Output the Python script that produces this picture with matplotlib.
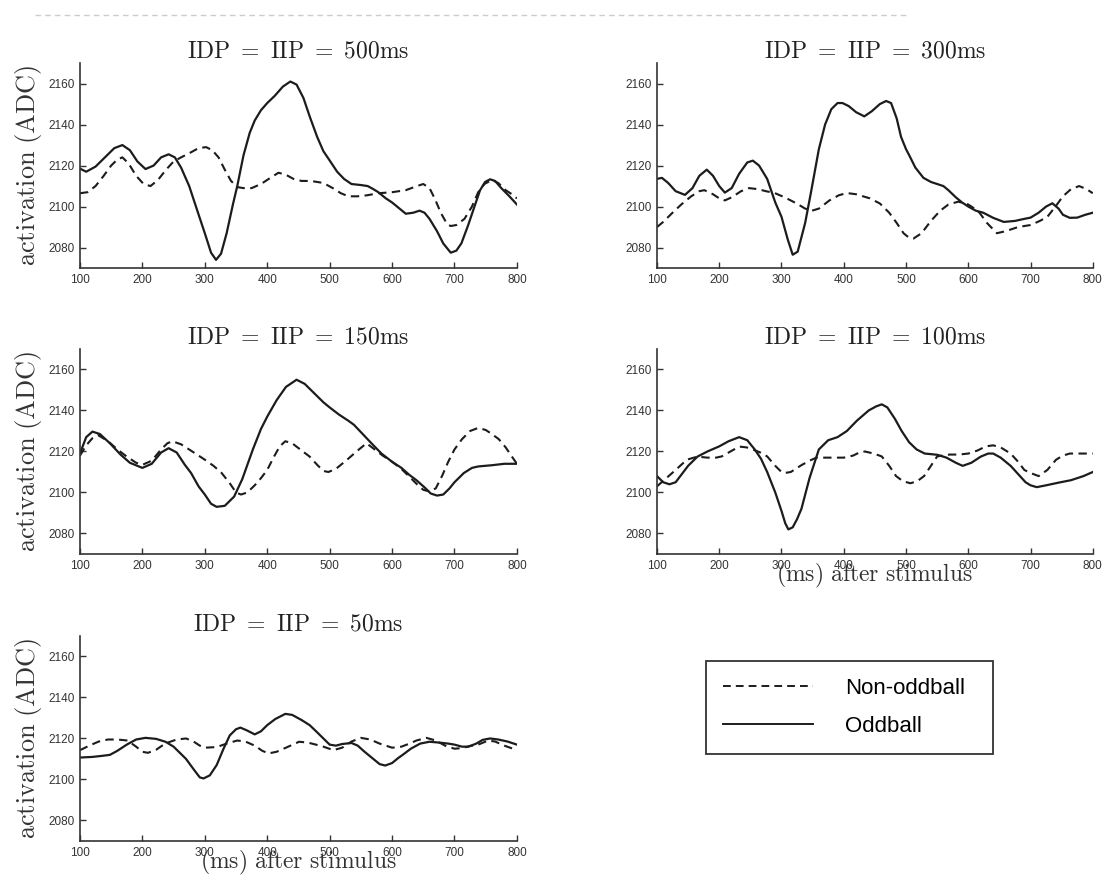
import matplotlib
matplotlib.use('Agg')
import matplotlib.pyplot as plt
from matplotlib.lines import Line2D
from matplotlib.patches import Rectangle

plt.rcParams['mathtext.fontset'] = 'cm'
plt.rcParams['font.family'] = ['Liberation Sans', 'DejaVu Sans']

# ---- data (time in ms, activation in ADC) ----
titles = ['500', '300', '150', '100', '50']

# IDP = IIP = 500ms
t500_odd = [100, 110, 125, 140, 155, 168, 180, 192, 205, 218, 230, 242, 252, 262, 275, 288, 300, 310, 318, 326,
            335, 345, 352, 362, 372, 380, 390, 400, 412, 425, 437, 447, 458, 468, 480, 490, 500, 512, 523, 535,
            550, 561, 570, 578, 590, 600, 612, 622, 634, 644, 652, 660, 672, 682, 694, 703, 711, 722, 732, 741,
            749, 757, 765, 775, 788, 800]
v500_odd = [2118.5, 2117, 2119.5, 2124, 2128.5, 2130, 2127.5, 2122, 2118.3, 2120, 2124, 2125.5, 2124, 2119, 2110,
            2098, 2087, 2077.5, 2074, 2077, 2087, 2101, 2110, 2125, 2136, 2142, 2147, 2150.5, 2154, 2158.5, 2161,
            2159.5, 2153, 2144, 2134, 2127, 2122.5, 2117, 2113.5, 2111, 2110.5, 2110, 2108.5, 2107, 2104, 2102,
            2099, 2096.5, 2097, 2098, 2097, 2094, 2088, 2082, 2077.5, 2078.5, 2082, 2091, 2100, 2108, 2112,
            2113.3, 2112.5, 2109, 2105, 2101]
t500_non = [100, 112, 125, 138, 150, 160, 168, 178, 190, 202, 213, 225, 238, 250, 262, 275, 290, 302, 312, 322,
            332, 342, 352, 362, 375, 390, 405, 418, 430, 442, 455, 470, 490, 505, 518, 530, 545, 560, 578, 600,
            622, 640, 650, 660, 669, 678, 688, 694, 703, 716, 728, 738, 748, 760, 770, 782, 792, 800]
v500_non = [2106.5, 2107, 2110, 2115, 2120, 2123, 2124, 2121, 2115, 2111, 2110, 2113, 2118, 2122, 2124, 2126,
            2128.5, 2129, 2127.5, 2124, 2118, 2112.5, 2109.5, 2109, 2109, 2111, 2114, 2116.5, 2115.5, 2113.5,
            2112.5, 2112.5, 2111.5, 2109, 2106.5, 2105, 2105, 2105.5, 2106.5, 2107, 2108, 2110, 2111, 2109,
            2103.5, 2097, 2091.5, 2090.5, 2091, 2094, 2100, 2107, 2111, 2113, 2111.5, 2108, 2106, 2104]

# IDP = IIP = 300ms
t300_odd = [100, 108, 118, 130, 145, 157, 168, 180, 190, 200, 209, 220, 232, 245, 254, 264, 277, 290, 300, 310,
            318, 326, 338, 348, 360, 370, 380, 390, 398, 408, 420, 433, 445, 458, 468, 476, 485, 492, 500, 506,
            515, 528, 540, 550, 560, 568, 580, 590, 600, 612, 624, 640, 657, 675, 690, 700, 713, 725, 735, 745,
            752, 763, 775, 788, 800]
v300_odd = [2113.5, 2114, 2111.5, 2107.5, 2105.7, 2109, 2115, 2118, 2115, 2110, 2106.8, 2109, 2116, 2121.5,
            2122.4, 2120, 2113.5, 2102, 2095, 2084, 2076.5, 2078, 2092, 2108, 2128, 2140, 2147.5, 2150.5, 2150.5,
            2149, 2146, 2144, 2146.5, 2150, 2151.5, 2150.5, 2143, 2134, 2128, 2124.5, 2119, 2114, 2112, 2111,
            2110, 2108, 2104.5, 2102, 2100, 2098, 2097, 2094.5, 2092.5, 2093, 2094, 2094.6, 2097, 2100, 2101.6,
            2099, 2096, 2094.5, 2094.6, 2096, 2097]
t300_non = [100, 110, 125, 139, 155, 168, 176, 190, 200, 209, 220, 235, 248, 262, 275, 289, 305, 318, 327, 338,
            349, 360, 377, 392, 405, 420, 442, 458, 473, 485, 496, 504, 512, 525, 540, 555, 568, 584, 600, 610,
            618, 630, 646, 660, 680, 700, 715, 727, 740, 752, 765, 778, 790, 800]
v300_non = [2090, 2092.5, 2097, 2101, 2105, 2107.5, 2108, 2106, 2104, 2103, 2104.5, 2107.5, 2109, 2108.5, 2107.5,
            2106.6, 2104.5, 2102.5, 2101, 2099, 2098, 2099, 2103, 2105.5, 2106.6, 2106, 2104, 2101.5, 2097, 2092,
            2087, 2085, 2084.4, 2087, 2093, 2098, 2101, 2102.4, 2101, 2099, 2097, 2092, 2087, 2088, 2090, 2091,
            2093, 2095, 2100, 2105, 2108.5, 2110, 2108.5, 2106.5]

# IDP = IIP = 150ms
t150_odd = [100, 110, 120, 132, 148, 165, 180, 200, 215, 230, 242, 255, 268, 278, 290, 300, 310, 319, 332, 347,
            360, 377, 390, 400, 415, 430, 447, 460, 475, 490, 500, 515, 530, 539, 553, 567, 583, 600, 615, 628,
            639, 652, 662, 672, 682, 692, 700, 715, 728, 738, 760, 780, 800]
v150_odd = [2119, 2127, 2129.7, 2128.5, 2124, 2118.5, 2114.5, 2112, 2114, 2119.5, 2121.6, 2119.5, 2113.5, 2109.5,
            2103, 2099, 2094.5, 2093, 2093.5, 2098, 2106.5, 2121, 2131, 2137, 2145, 2151.5, 2155, 2153, 2148.5,
            2144, 2141.5, 2138, 2135, 2133, 2128.5, 2124, 2119, 2115, 2112, 2108.5, 2106, 2102.5, 2099.5, 2098.5,
            2099, 2102, 2105, 2109.5, 2112, 2112.7, 2113.3, 2114, 2114]
t150_non = [100, 110, 120, 129, 145, 160, 175, 190, 200, 215, 230, 240, 248, 262, 280, 300, 314, 327, 340, 350,
            358, 368, 380, 390, 400, 410, 420, 429, 440, 455, 468, 480, 490, 498, 510, 520, 528, 545, 559, 570,
            585, 600, 615, 630, 640, 650, 660, 670, 680, 690, 700, 712, 725, 738, 750, 760, 771, 782, 792, 800]
v150_non = [2118, 2123, 2126.5, 2128, 2125, 2121, 2117.5, 2114.5, 2113.5, 2115.5, 2121, 2124, 2125, 2123.5, 2120,
            2116, 2113, 2109.5, 2104.5, 2100, 2099, 2100, 2103.5, 2107, 2111, 2117, 2122.5, 2125, 2124, 2120.5,
            2117.5, 2113.5, 2110.5, 2110, 2111.5, 2114, 2116, 2120.5, 2124, 2121.5, 2118, 2115, 2111.5, 2107,
            2104, 2101.3, 2100.5, 2102, 2108, 2115, 2121, 2126, 2130, 2131.5, 2130.5, 2128.5, 2126, 2122, 2117.5,
            2114]

# IDP = IIP = 100ms
t100_odd = [100, 110, 120, 130, 140, 150, 165, 181, 200, 215, 232, 245, 257, 267, 277, 290, 300, 306, 311, 318,
            325, 332, 345, 360, 375, 390, 405, 421, 440, 452, 461, 470, 482, 493, 505, 517, 530, 550, 565, 580,
            591, 605, 620, 632, 640, 652, 668, 680, 692, 700, 710, 725, 745, 765, 785, 800]
v100_odd = [2108, 2105, 2104, 2105, 2109, 2113, 2117.5, 2120, 2122.5, 2125, 2127, 2125.5, 2121, 2116.5, 2110,
            2100, 2091, 2085, 2082, 2083, 2087, 2092, 2107, 2121, 2125.5, 2127, 2130, 2135, 2140, 2142, 2143,
            2141.5, 2136, 2130, 2124.5, 2121, 2119, 2118.4, 2117, 2114.5, 2113, 2114.5, 2117.5, 2119, 2119, 2117,
            2113, 2109, 2105, 2103.5, 2102.6, 2103.5, 2104.8, 2106, 2108, 2110]
t100_non = [100, 115, 130, 148, 165, 181, 195, 204, 218, 232, 244, 254, 266, 277, 290, 300, 305, 315, 325, 333,
            345, 356, 375, 400, 415, 425, 434, 448, 461, 473, 484, 495, 507, 518, 529, 540, 550, 570, 585, 600,
            615, 628, 640, 652, 668, 680, 690, 700, 713, 727, 741, 752, 763, 780, 800]
v100_non = [2103, 2107, 2111, 2116, 2117.5, 2117, 2117, 2117.6, 2120, 2122.4, 2122, 2121, 2119.5, 2117.6, 2113,
            2110, 2109.5, 2110, 2112, 2113.5, 2115.5, 2117, 2117, 2117, 2118, 2119.5, 2120, 2119, 2117.6, 2113,
            2108, 2105.5, 2104.5, 2105.5, 2108, 2113, 2117.6, 2118.5, 2118.5, 2119, 2120.5, 2122.5, 2123, 2122,
            2119, 2115, 2111, 2109.5, 2108, 2111, 2116, 2118, 2119, 2119, 2119]

# IDP = IIP = 50ms
t50_odd = [100, 120, 135, 148, 160, 175, 190, 205, 222, 237, 250, 260, 270, 282, 292, 298, 308, 319, 330, 340,
           350, 357, 367, 380, 390, 400, 413, 429, 440, 455, 468, 480, 490, 500, 510, 520, 535, 545, 556, 570,
           580, 589, 600, 610, 617, 630, 645, 660, 675, 690, 700, 712, 722, 735, 745, 757, 770, 785, 800]
v50_odd = [2110.7, 2111, 2111.5, 2112, 2114, 2117, 2119.5, 2120.3, 2119.8, 2118.4, 2116, 2113, 2110, 2105, 2101,
           2100.5, 2102, 2107, 2115, 2121.5, 2124.5, 2125.3, 2124, 2122, 2123.5, 2126.5, 2129.5, 2132, 2131.5,
           2129, 2126.5, 2123, 2120, 2117, 2116.5, 2117.3, 2117.8, 2116.5, 2113.5, 2110, 2107.5, 2106.8, 2108,
           2110.5, 2112, 2115, 2117.5, 2118.4, 2118, 2117.5, 2117, 2116, 2116, 2117.5, 2119.3, 2120, 2119.5,
           2118.5, 2117]
t50_non = [100, 115, 130, 145, 160, 176, 190, 200, 209, 222, 237, 255, 270, 282, 292, 300, 319, 335, 352, 365,
           380, 392, 402, 415, 430, 451, 465, 478, 490, 506, 520, 535, 550, 565, 580, 600, 615, 628, 639, 655,
           670, 685, 700, 712, 725, 738, 754, 765, 780, 800]
v50_non = [2114.3, 2116.5, 2118.5, 2119.5, 2119.5, 2119, 2116, 2113.5, 2113, 2114.5, 2117.6, 2119.5, 2120, 2118.5,
           2116.5, 2115.5, 2115.8, 2117.5, 2119, 2118.5, 2116.5, 2114, 2112.7, 2113.5, 2115.5, 2118.4, 2118,
           2117, 2116, 2114.3, 2115.5, 2118.5, 2120.3, 2119.5, 2117.5, 2115.5, 2116, 2117.5, 2119, 2120.3, 2119,
           2116.5, 2115, 2115.3, 2116.3, 2117, 2119, 2118.5, 2116.5, 2114.3]

odd = [(t500_odd, v500_odd), (t300_odd, v300_odd), (t150_odd, v150_odd), (t100_odd, v100_odd), (t50_odd, v50_odd)]
non = [(t500_non, v500_non), (t300_non, v300_non), (t150_non, v150_non), (t100_non, v100_non), (t50_non, v50_non)]

xticks = [100, 200, 300, 400, 500, 600, 700, 800]
yticks = [2080, 2100, 2120, 2140, 2160]

# ---- layout ----
W, H = 1109, 876
fig = plt.figure(figsize=(W / 100, H / 100), dpi=100)

positions = [
    [0.0721, 0.694, 0.394, 0.234],
    [0.5924, 0.694, 0.393, 0.234],
    [0.0721, 0.3676, 0.394, 0.234],
    [0.5924, 0.3676, 0.393, 0.234],
    [0.0721, 0.040, 0.394, 0.234],
]

ink = '#1c1c1c'
dash = (4, 2.6)

for i, pos in enumerate(positions):
    ax = fig.add_axes(pos)
    ax.plot(non[i][0], non[i][1], color=ink, lw=1.5, dashes=dash)
    ax.plot(odd[i][0], odd[i][1], color=ink, lw=1.6, solid_joinstyle='round')
    ax.set_xlim(100, 800)
    ax.set_ylim(2070, 2170)
    ax.set_xticks(xticks)
    ax.set_yticks(yticks)
    ax.tick_params(direction='in', length=4, width=1, labelsize=8.5, pad=4, colors='#333333')
    for s in ['top', 'right']:
        ax.spines[s].set_visible(False)
    for s in ['left', 'bottom']:
        ax.spines[s].set_color('#333333')
        ax.spines[s].set_linewidth(1.2)
    ax.set_title(r'$\mathrm{IDP\ =\ IIP\ =\ %sms}$' % titles[i], fontsize=17, pad=4, color='#222222')
    if i in (0, 2, 4):
        ax.set_ylabel(r'$\mathrm{activation\ (ADC)}$', fontsize=19, labelpad=3, color='#333333')
    if i in (3, 4):
        ax.set_xlabel(r'$\mathrm{(ms)\ after\ stimulus}$', fontsize=17, color='#333333')
        ax.xaxis.set_label_coords(0.5, -0.035)

# faint dashed line across the top of the page
fig.add_artist(Line2D([35 / W, 908 / W], [1 - 15 / H, 1 - 15 / H], transform=fig.transFigure,
                      color='#cccccc', lw=1, dashes=(4, 3)))

# legend box
fig.add_artist(Rectangle((706 / W, 1 - 754 / H), 287 / W, 93 / H, transform=fig.transFigure,
                         fill=False, ec='#333333', lw=1.3))
handles = [Line2D([], [], color=ink, lw=1.4, dashes=dash), Line2D([], [], color=ink, lw=1.4)]
fig.legend(handles, ['Non-oddball', 'Oddball'], loc='upper left',
           bbox_to_anchor=(723 / W, 1 - 678 / H), frameon=False, fontsize=16,
           handlelength=4.05, handletextpad=1.45, labelspacing=0.75, borderpad=0, borderaxespad=0)

fig.savefig('out.png', dpi=100)
